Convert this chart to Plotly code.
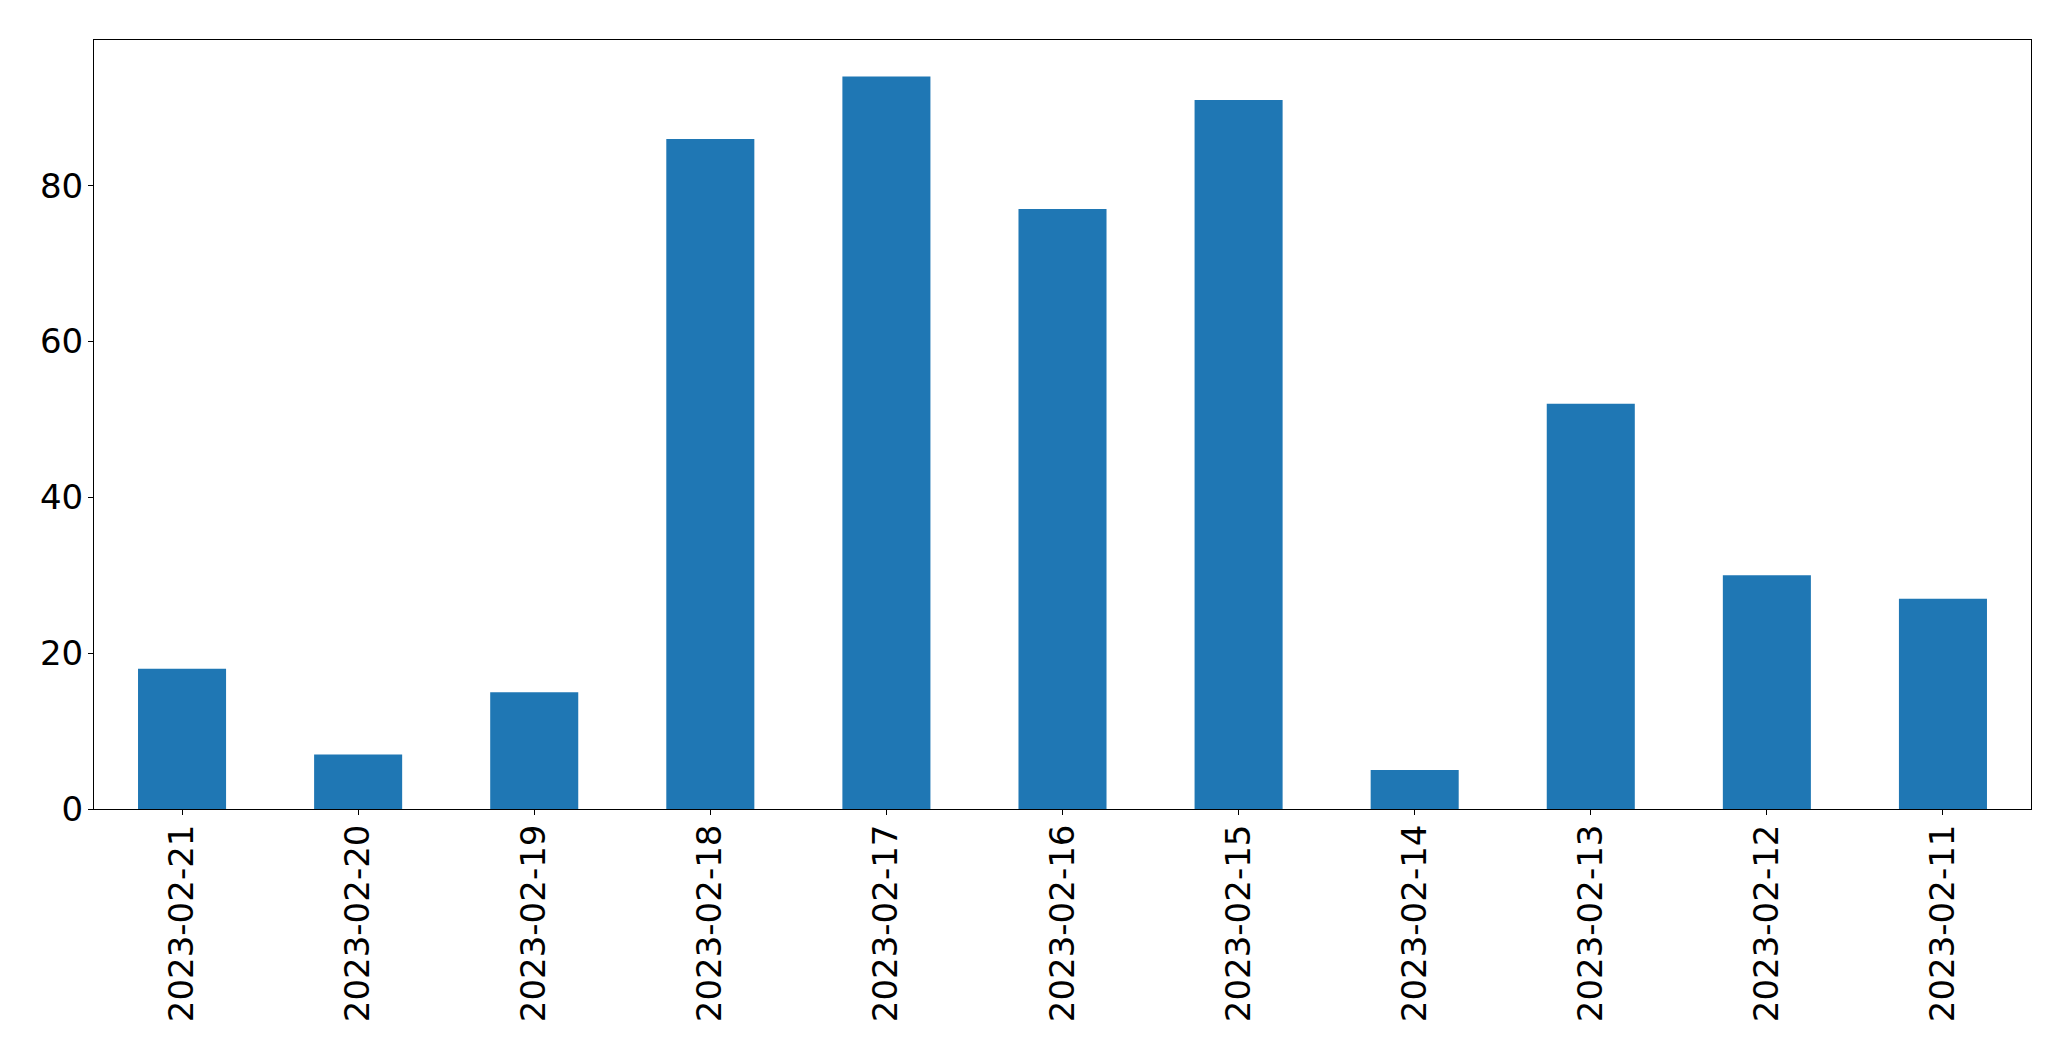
import plotly.graph_objects as go

categories = ["2023-02-21", "2023-02-20", "2023-02-19", "2023-02-18", "2023-02-17",
              "2023-02-16", "2023-02-15", "2023-02-14", "2023-02-13", "2023-02-12",
              "2023-02-11"]
values = [18, 7, 15, 86, 94, 77, 91, 5, 52, 30, 27]
y_ticks = [0, 20, 40, 60, 80]

fig = go.Figure(go.Bar(x=categories, y=values, width=0.5, marker_color="#1f77b4",
                       marker_line_width=0))

font = dict(family="DejaVu Sans", size=34, color="black")
fig.update_layout(
    width=2063, height=1053,
    margin=dict(l=86, r=40, t=32, b=252, autoexpand=False),
    paper_bgcolor="white", plot_bgcolor="white",
    showlegend=False,
    font=font,
)
fig.update_xaxes(
    type="category", range=[-0.5, len(categories) - 0.5],
    showline=True, mirror=True, linecolor="black", linewidth=1,
    ticks="outside", ticklen=5, tickwidth=1, tickcolor="black",
    tickangle=-90, tickfont=font, showgrid=False, zeroline=False,
    ticklabelstandoff=-4,
)
fig.update_yaxes(
    range=[0, max(values) * 1.05], tickvals=y_ticks,
    showline=True, mirror=True, linecolor="black", linewidth=1,
    ticks="outside", ticklen=5, tickwidth=1, tickcolor="black",
    tickfont=font, showgrid=False, zeroline=False,
    ticklabelstandoff=-2,
)
fig.write_html("out.html")
